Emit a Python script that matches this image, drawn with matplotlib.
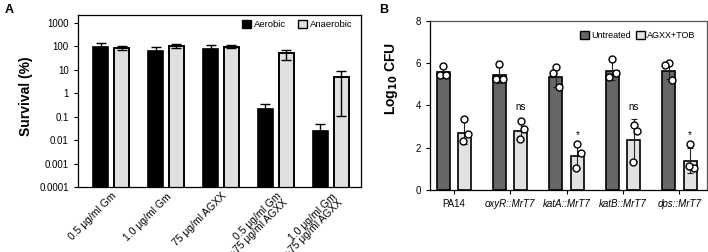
import numpy as np
import matplotlib
matplotlib.use("Agg")
import matplotlib.pyplot as plt
import matplotlib.transforms as mtransforms
from matplotlib.patches import Patch

plt.rcParams["font.family"] = ["Liberation Sans", "DejaVu Sans"]

# Panel A data
treatments = ["0.5 μg/ml Gm", "1.0 μg/ml Gm", "75 μg/ml AGXX",
              "0.5 μg/ml Gm\n+75 μg/ml AGXX", "1.0 μg/ml Gm\n+75 μg/ml AGXX"]
aerobic = [93, 65, 80, 0.22, 0.024]
aerobic_hi = [134, 97, 118, 0.36, 0.048]
anaerobic = [88, 100, 97, 52, 4.7]
anaerobic_lo = [70, 82, 85, 25, 0.11]
anaerobic_hi = [105, 120, 118, 69, 9]

# Panel B data
strains = ["PA14", "oxyR::MrT7", "katA::MrT7", "katB::MrT7", "dps::MrT7"]
untreated = [5.56, 5.45, 5.37, 5.65, 5.65]
untreated_err = [0.25, 0.38, 0.5, 0.45, 0.4]
untreated_pts = [[5.86, 5.42, 5.42], [5.94, 5.26, 5.26], [5.8, 5.53, 4.87],
                 [6.19, 5.37, 5.53], [6.0, 5.92, 5.21]]
treated = [2.72, 2.8, 1.6, 2.36, 1.39]
treated_err = [0.55, 0.45, 0.55, 1.0, 0.6]
treated_pts = [[3.34, 2.66, 2.31], [3.25, 2.9, 2.4], [2.16, 1.73, 1.06],
               [3.09, 2.77, 1.32], [2.16, 1.06, 1.13]]
marks = ["", "ns", "*", "ns", "*"]
mark_y = [0, 3.92, 2.6, 3.92, 2.6]

fig = plt.figure(figsize=(7.08, 2.52), dpi=100)

# ---- A ----
ax = fig.add_axes([0.110, 0.258, 0.400, 0.683])
x = np.arange(len(treatments))
w = 0.265
off = 0.19
aer = np.array(aerobic)
ana = np.array(anaerobic)
ax.bar(x - off, aer, w, color="black", edgecolor="black", lw=1.2, zorder=2)
ax.bar(x + off, ana, w, color="#e0e0e0", edgecolor="black", lw=1.4, zorder=2)
ax.errorbar(x - off, aer, yerr=[np.zeros(5), np.array(aerobic_hi) - aer],
            fmt="none", ecolor="black", elinewidth=1, capsize=3.5, capthick=1, zorder=3)
ax.errorbar(x + off, ana, yerr=[ana - np.array(anaerobic_lo), np.array(anaerobic_hi) - ana],
            fmt="none", ecolor="black", elinewidth=1, capsize=3.5, capthick=1, zorder=3)
ax.set_yscale("log")
ax.set_ylim(1e-4, 2200)
ax.set_yticks([1e-4, 1e-3, 1e-2, 1e-1, 1, 10, 100, 1000])
ax.set_yticklabels(["0.0001", "0.001", "0.01", "0.1", "1", "10", "100", "1000"])
ax.minorticks_off()
ax.set_xlim(-0.605, 4.55)
ax.set_xticks(x)
ax.set_xticklabels(treatments, rotation=45, ha="right", rotation_mode="anchor",
                   fontsize=7.5, linespacing=0.9)
shift = mtransforms.ScaledTranslation(-7 / 100, 0, fig.dpi_scale_trans)
for lab in ax.get_xticklabels():
    lab.set_transform(lab.get_transform() + shift)
ax.tick_params(axis="x", length=0, pad=3)
ax.tick_params(axis="y", labelsize=7, length=3, width=0.8)
for s in ax.spines.values():
    s.set_linewidth(0.9)
ax.set_ylabel("Survival (%)", fontsize=10, fontweight="bold")
ax.yaxis.set_label_coords(-0.159, 0.526)
ax.legend(handles=[Patch(facecolor="black", edgecolor="black", label="Aerobic"),
                   Patch(facecolor="#e0e0e0", edgecolor="black", label="Anaerobic")],
          loc="upper right", ncol=2, frameon=False, fontsize=6.8,
          handlelength=1.0, handleheight=1.0, columnspacing=1.2, handletextpad=0.3,
          bbox_to_anchor=(1.0, 1.02))
fig.text(0.007, 0.985, "A", fontsize=9, fontweight="bold", va="top")

# ---- B ----
bx = fig.add_axes([0.607, 0.246, 0.391, 0.671])
xb = np.arange(len(strains))
wb = 0.23
offb = 0.19
bx.bar(xb - offb, untreated, wb, color="#666666", edgecolor="black", lw=1.2, zorder=2)
bx.bar(xb + offb, treated, wb, color="#e2e2e2", edgecolor="black", lw=1.2, zorder=2)
bx.errorbar(xb - offb, untreated, yerr=untreated_err, fmt="none", ecolor="#222222",
            elinewidth=0.8, capsize=2, capthick=0.8, zorder=3)
bx.errorbar(xb + offb, treated, yerr=treated_err, fmt="none", ecolor="#222222",
            elinewidth=0.8, capsize=2, capthick=0.8, zorder=3)
for i in range(len(strains)):
    for j in range(3):
        bx.plot(xb[i] - offb + [0.0, -0.06, 0.06][j], untreated_pts[i][j], "o",
                mfc="white", mec="black", ms=5, mew=1, zorder=4)
        bx.plot(xb[i] + offb + [0.0, 0.06, -0.02][j], treated_pts[i][j], "o",
                mfc="white", mec="black", ms=5, mew=1, zorder=4)
    if marks[i]:
        bx.text(xb[i] + offb, mark_y[i], marks[i], ha="center", va="center", fontsize=7)
bx.set_ylim(0, 8)
bx.set_yticks([0, 2, 4, 6, 8])
bx.set_xlim(-0.425, 4.48)
bx.set_xticks(xb)
bx.set_xticklabels(strains, fontsize=7)
for lab in bx.get_xticklabels()[1:]:
    lab.set_style("italic")
bx.tick_params(axis="both", labelsize=7, length=3, width=0.8)
for s in bx.spines.values():
    s.set_linewidth(0.9)
bx.spines["top"].set_color("#555555")
bx.spines["right"].set_color("#555555")
bx.set_ylabel("Log$_{\\mathbf{10}}$ CFU", fontsize=10, fontweight="bold")
bx.yaxis.set_label_coords(-0.108, 0.66)
bx.legend(handles=[Patch(facecolor="#666666", edgecolor="black", label="Untreated"),
                   Patch(facecolor="#e2e2e2", edgecolor="black", label="AGXX+TOB")],
          loc="upper right", ncol=2, frameon=False, fontsize=6.5,
          handlelength=1.0, handleheight=1.0, columnspacing=0.5, handletextpad=0.3,
          bbox_to_anchor=(0.99, 0.99))
fig.text(0.535, 0.985, "B", fontsize=9, fontweight="bold", va="top")

fig.savefig("out.png", dpi=100)
